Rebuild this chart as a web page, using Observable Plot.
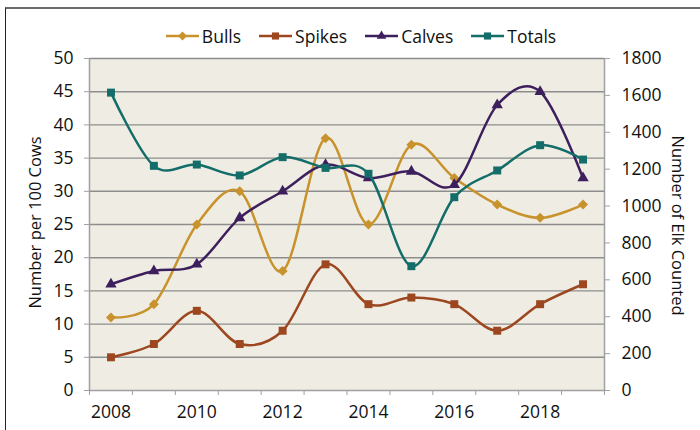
<!DOCTYPE html>
<html>
<head>
<meta charset="utf-8">
<script src="https://cdn.jsdelivr.net/npm/d3@7"></script>
<script src="https://cdn.jsdelivr.net/npm/@observablehq/plot@0.6"></script>
<style>
  html, body { margin: 0; padding: 0; background: #ffffff; }
  #wrap { position: relative; width: 700px; height: 430px; overflow: hidden; font-family: "Open Sans", sans-serif; color: #111; }
  #frame { position: absolute; left: 5px; top: 7px; width: 720px; height: 450px; border-left: 1.5px solid #222; border-top: 2px solid #6b6b6b; box-sizing: border-box; }
  #legend { position: relative; z-index: 2; margin-top: 25px; height: 22px; width: 722px; display: flex; justify-content: center; align-items: center; font-size: 17.5px; }
  .item { display: flex; align-items: center; margin-right: 18px; }
  .item:last-child { margin-right: 0; }
  .item svg { margin-right: 3px; }
  #chart { position: relative; z-index: 1; margin-top: -20px; }
  .ytitle { position: absolute; z-index: 3; font-size: 16.5px; white-space: nowrap; transform-origin: center center; }
</style>
</head>
<body>
<div id="wrap">
  <div id="frame"></div>
  <div id="legend"></div>
  <div id="chart"></div>
</div>
<script>
// ---- data ----
const years  = [2008, 2009, 2010, 2011, 2012, 2013, 2014, 2015, 2016, 2017, 2018, 2019];
const bulls  = [11, 13, 25, 30, 18, 38, 25, 37, 32, 28, 26, 28];
const spikes = [5, 7, 12, 7, 9, 19, 13, 14, 13, 9, 13, 16];
const calves = [16, 18, 19, 26, 30, 34, 32, 33, 31, 43, 45, 32];
const totals = [1615, 1218, 1225, 1166, 1265, 1207, 1175, 674, 1048, 1193, 1330, 1252];
const leftTicks  = [0, 5, 10, 15, 20, 25, 30, 35, 40, 45, 50];
const rightTicks = [0, 200, 400, 600, 800, 1000, 1200, 1400, 1600, 1800];
const xLabelYears = [2008, 2010, 2012, 2014, 2016, 2018];
const seriesNames = ["Bulls", "Spikes", "Calves", "Totals"];
const seriesColors = ["#c8922c", "#9c4720", "#3e1f5d", "#146d69"];
const seriesSymbols = ["diamond2", "square", "triangle", "square"];
const leftTitle = "Number per 100 Cows";
const rightTitle = "Number of Elk Counted";

const leftMax = 50, rightMax = 1800;
const k = rightMax / leftMax;

const rows = years.map((year, i) => ({year, bulls: bulls[i], spikes: spikes[i], calves: calves[i], totals: totals[i]}));
const accessors = [d => d.bulls, d => d.spikes, d => d.calves, d => d.totals / k];
const boundaries = years.map(y => y - 0.5).concat([years[years.length - 1] + 0.5]);

// ---- legend ----
const legend = document.getElementById("legend");
const symMap = {diamond2: d3.symbolDiamond2, square: d3.symbolSquare, triangle: d3.symbolTriangle};
const symSize = {diamond2: Math.PI * 4.5 * 4.5, square: Math.PI * 4.5 * 4.5, triangle: Math.PI * 4 * 4};
seriesNames.forEach((name, i) => {
  const item = document.createElement("div");
  item.className = "item";
  const svg = d3.create("svg").attr("width", 33).attr("height", 14);
  svg.append("line").attr("x1", 0).attr("x2", 33).attr("y1", 7).attr("y2", 7)
    .attr("stroke", seriesColors[i]).attr("stroke-width", 2.5);
  svg.append("path").attr("transform", "translate(16.5,7)")
    .attr("d", d3.symbol(symMap[seriesSymbols[i]], symSize[seriesSymbols[i]] * 0.8)())
    .attr("fill", seriesColors[i]);
  item.appendChild(svg.node());
  const span = document.createElement("span");
  span.textContent = name;
  item.appendChild(span);
  legend.appendChild(item);
});

// ---- chart ----
const gridColor = "#8d8d8d";
const axisColor = "#a0a0a0";
const fs = 17.5;
const marks = [
  Plot.frame({fill: "#efede3"}),
  Plot.gridY(leftTicks.slice(1), {stroke: gridColor, strokeOpacity: 1, strokeWidth: 1.4}),
  Plot.ruleX([boundaries[0], boundaries[boundaries.length - 1]], {stroke: axisColor, strokeWidth: 1.5}),
  Plot.ruleY([0], {stroke: axisColor, strokeWidth: 1.5}),
  Plot.axisY({ticks: leftTicks, tickSize: 5, tickPadding: 11, label: null, stroke: axisColor, fontSize: fs, fill: "#111"}),
  Plot.axisY({anchor: "right", ticks: rightTicks.map(v => v / k), tickFormat: d => String(Math.round(d * k)),
    tickSize: 5, tickPadding: 12, label: null, stroke: axisColor, fontSize: fs, fill: "#111", textAnchor: "start"}),
  Plot.axisX({ticks: boundaries, tickFormat: () => "", tickSize: 5, label: null, stroke: axisColor}),
  Plot.axisX({ticks: xLabelYears, tickFormat: d => String(d), tickSize: 0, tickPadding: 15, label: null, fontSize: fs, fill: "#111"})
];
accessors.forEach((acc, i) => {
  marks.push(Plot.line(rows, {x: "year", y: acc, stroke: seriesColors[i], strokeWidth: 2.5, curve: "cardinal", tension: 0}));
  marks.push(Plot.dot(rows, {x: "year", y: acc, fill: seriesColors[i], stroke: "none",
    symbol: seriesSymbols[i], r: seriesSymbols[i] === "triangle" ? 4.2 : 4.5}));
});

const plot = Plot.plot({
  width: 700,
  height: 403,
  marginTop: 31,
  marginBottom: 40,
  marginLeft: 89,
  marginRight: 96,
  style: {fontFamily: "'Open Sans', sans-serif", fontSize: fs + "px", color: "#111", background: "transparent"},
  x: {type: "linear", domain: [boundaries[0], boundaries[boundaries.length - 1]]},
  y: {type: "linear", domain: [0, leftMax]},
  marks
});
document.getElementById("chart").appendChild(plot);

// ---- axis titles ----
const wrap = document.getElementById("wrap");
function addTitle(text, cx, cy, rot) {
  const el = document.createElement("div");
  el.className = "ytitle";
  el.textContent = text;
  wrap.appendChild(el);
  const w = el.offsetWidth, h = el.offsetHeight;
  el.style.left = (cx - w / 2) + "px";
  el.style.top = (cy - h / 2) + "px";
  el.style.transform = `rotate(${rot}deg)`;
}
addTitle(leftTitle, 34, 222, -90);
addTitle(rightTitle, 678, 225, 90);
</script>
</body>
</html>
